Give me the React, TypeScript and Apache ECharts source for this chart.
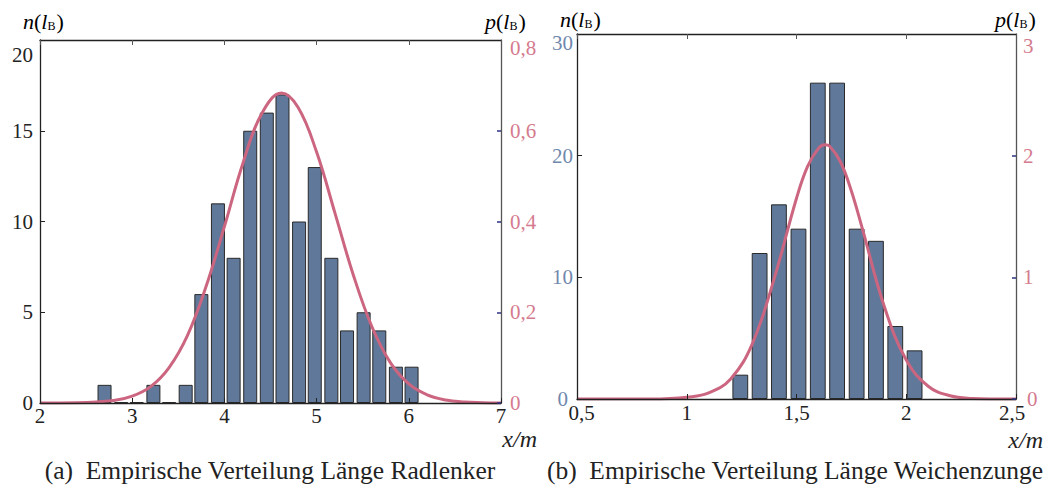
import React, { useEffect, useRef } from "react";
import * as echarts from "echarts";

const FONT = "Liberation Serif";

// ---- Left chart: Radlenker ----
const leftBinCenters = [2.70, 2.88, 3.05, 3.23, 3.40, 3.58, 3.75, 3.93, 4.10, 4.28, 4.46, 4.63, 4.81, 4.98, 5.16, 5.33, 5.51, 5.68, 5.86, 6.03];
const leftCounts = [1, 0, 0, 1, 0, 1, 6, 11, 8, 15, 16, 17, 10, 13, 8, 4, 5, 4, 2, 2];
const leftCurveX = [2.0, 2.4, 2.8, 3.0, 3.2, 3.4, 3.6, 3.8, 4.0, 4.2, 4.4, 4.62, 4.8, 5.0, 5.2, 5.4, 5.6, 5.8, 6.0, 6.2, 6.4, 6.6, 6.8, 7.0];
const leftCurveP = [0, 0.0005, 0.0054, 0.015, 0.036, 0.078, 0.149, 0.256, 0.389, 0.528, 0.636, 0.683, 0.651, 0.553, 0.418, 0.281, 0.168, 0.089, 0.042, 0.018, 0.0067, 0.0022, 0.0007, 0];
const leftCountMax = 20;
const leftDensityMax = 0.8;

// ---- Right chart: Weichenzunge ----
const rightBinCenters = [1.244, 1.332, 1.420, 1.509, 1.597, 1.685, 1.774, 1.862, 1.950, 2.038];
const rightCounts = [2, 12, 16, 14, 26, 26, 14, 13, 6, 4];
const rightCurveX = [0.5, 0.8, 0.9, 1.0, 1.1, 1.2, 1.3, 1.4, 1.5, 1.55, 1.6, 1.63, 1.65, 1.7, 1.75, 1.8, 1.9, 2.0, 2.1, 2.2, 2.3, 2.4, 2.5];
const rightCurveP = [0, 0.0004, 0.003, 0.014, 0.05, 0.165, 0.46, 1.0, 1.65, 1.91, 2.06, 2.09, 2.08, 1.95, 1.71, 1.4, 0.76, 0.32, 0.105, 0.027, 0.005, 0.0007, 0];
const rightCountMax = 30;
const rightDensityMax = 3;

const captionLeft = "(a)  Empirische Verteilung Länge Radlenker";
const captionRight = "(b)  Empirische Verteilung Länge Weichenzunge";

const BAR = "#60789a";
const BAR_BORDER = "#2a2a2a";
const CURVE = "#cc6680";
const PINK = "#d57b8f";
const BLUEGRAY = "#7088ad";
const NAVY = "#2c3280";
const DARK = "#222222";

const comma = (v: number) => String(v).replace(".", ",");

function tok(color: string, padding: number[]) {
  return { color, fontSize: 21, lineHeight: 14, fontFamily: FONT, padding };
}

function xAxes(grid: number, min: number, max: number, interval: number, margin: number, minPadL: number, maxPadR: number) {
  return [
    {
      gridIndex: grid,
      type: "value",
      min,
      max,
      interval,
      position: "bottom",
      z: 5,
      splitLine: { show: false },
      axisLine: { show: true, onZero: false, lineStyle: { color: DARK, width: 1.3 } },
      axisTick: { show: true, inside: true, length: 5, lineStyle: { color: DARK } },
      axisLabel: {
        color: DARK,
        fontSize: 21,
        lineHeight: 14,
        fontFamily: FONT,
        margin,
        showMinLabel: true,
        showMaxLabel: true,
        formatter: (v: number) =>
          v === min && minPadL ? "{a|" + comma(v) + "}" : v === max && maxPadR ? "{c|" + comma(v) + "}" : comma(v),
        rich: { a: tok(DARK, [0, 0, 0, minPadL]), c: tok(DARK, [0, maxPadR, 0, 0]) },
      },
    },
    {
      gridIndex: grid,
      type: "value",
      min,
      max,
      interval,
      position: "top",
      z: 5,
      splitLine: { show: false },
      axisLine: { show: true, onZero: false, lineStyle: { color: DARK, width: 1.3 } },
      axisTick: { show: true, inside: true, length: 5, lineStyle: { color: "#555" } },
      axisLabel: { show: false },
    },
  ];
}

function yAxis(grid: number, max: number, interval: number, side: "left" | "right", color: string, margin: number, zeroPad: number) {
  return {
    gridIndex: grid,
    type: "value",
    min: 0,
    max,
    interval,
    position: side,
    z: 5,
    splitLine: { show: false },
    axisLine: { show: true, onZero: false, lineStyle: { color: side === "left" ? DARK : "#555", width: 1.3 } },
    axisTick: {
      show: true,
      inside: true,
      length: side === "left" ? 5 : 4,
      lineStyle: side === "left" ? { color: DARK } : { color: NAVY, width: 1.5 },
    },
    axisLabel: {
      color,
      fontSize: 21,
      lineHeight: 14,
      fontFamily: FONT,
      margin,
      showMaxLabel: false,
      formatter: (v: number) => (v === 0 && zeroPad ? "{z|0}" : comma(v)),
      rich: { z: tok(color, side === "left" ? [0, zeroPad, 0, 0] : [0, 0, 0, zeroPad]) },
    },
  };
}

// top tick labels sit a little below their ticks in the reference
function topLabel(x: number, y: number, value: number, color: string, align: string) {
  return {
    type: "text",
    x,
    y,
    style: {
      text: comma(value),
      font: "21px " + FONT,
      lineHeight: 16,
      fill: color,
      align,
      verticalAlign: "middle",
    },
  };
}

function axisTitle(x: number, y: number, letter: string, color: string) {
  return {
    type: "text",
    x,
    y,
    style: {
      text: "{i|" + letter + "}{n|(}{i|l}{s|B}{n|)}",
      align: "left",
      verticalAlign: "middle",
      rich: {
        i: { fontFamily: FONT, fontSize: 22, fontStyle: "italic", color, lineHeight: 24, verticalAlign: "bottom" },
        n: { fontFamily: FONT, fontSize: 22, color, lineHeight: 24, verticalAlign: "bottom" },
        s: { fontFamily: FONT, fontSize: 12, color, lineHeight: 11, verticalAlign: "bottom", padding: [0, 1, 0, 0] },
      },
    },
  };
}

function xm(x: number, y: number) {
  return {
    type: "text",
    x,
    y,
    style: {
      text: "x/m",
      font: "italic 24px " + FONT,
      lineHeight: 18,
      fill: DARK,
      align: "right",
      verticalAlign: "middle",
    },
  };
}

function caption(x: number, y: number, text: string) {
  return {
    type: "text",
    x,
    y,
    style: {
      text,
      font: "25.5px " + FONT,
      fill: DARK,
      align: "center",
      verticalAlign: "middle",
    },
  };
}

export default function App() {
  const ref = useRef<HTMLDivElement>(null);
  useEffect(() => {
    document.body.style.margin = "0";
    const chart = echarts.init(ref.current as HTMLDivElement, null, { renderer: "svg", width: 1050, height: 491 });
    const option = {
      animation: false,
      backgroundColor: "#ffffff",
      grid: [
        { left: 40, top: 40, width: 461, height: 363 },
        { left: 577, top: 34, width: 439, height: 365 },
      ],
      xAxis: [...xAxes(0, 2, 7, 1, 6, 0, 0), ...xAxes(1, 0.5, 2.5, 0.5, 7, 9, 8)],
      yAxis: [
        yAxis(0, leftCountMax, 5, "left", DARK, 7, 0),
        yAxis(0, leftDensityMax, 0.2, "right", PINK, 9, 0),
        yAxis(1, rightCountMax, 10, "left", BLUEGRAY, 4, 5),
        yAxis(1, rightDensityMax, 1, "right", PINK, 7, 4),
      ],
      series: [
        {
          type: "bar",
          xAxisIndex: 0,
          yAxisIndex: 0,
          barWidth: 14,
          barMinHeight: 1,
          data: leftBinCenters.map((x, i) => [x, leftCounts[i]]),
          itemStyle: { color: BAR, borderColor: BAR_BORDER, borderWidth: 1 },
          z: 2,
        },
        {
          type: "line",
          xAxisIndex: 0,
          yAxisIndex: 1,
          smooth: 0.4,
          symbol: "none",
          data: leftCurveX.map((x, i) => [x, leftCurveP[i]]),
          lineStyle: { color: CURVE, width: 3 },
          z: 3,
        },
        {
          type: "bar",
          xAxisIndex: 2,
          yAxisIndex: 2,
          barWidth: 15.8,
          data: rightBinCenters.map((x, i) => [x, rightCounts[i]]),
          itemStyle: { color: BAR, borderColor: BAR_BORDER, borderWidth: 1 },
          z: 2,
        },
        {
          type: "line",
          xAxisIndex: 2,
          yAxisIndex: 3,
          smooth: 0.4,
          symbol: "none",
          data: rightCurveX.map((x, i) => [x, rightCurveP[i]]),
          lineStyle: { color: CURVE, width: 3 },
          z: 3,
        },
      ],
      graphic: [
        topLabel(33, 55, leftCountMax, DARK, "right"),
        topLabel(510, 48, leftDensityMax, PINK, "left"),
        topLabel(573, 43, rightCountMax, BLUEGRAY, "right"),
        topLabel(1023, 46, rightDensityMax, PINK, "left"),
        axisTitle(23, 20, "n", BLUEGRAY),
        axisTitle(485, 20, "p", PINK),
        axisTitle(560, 18, "n", BLUEGRAY),
        axisTitle(995, 18, "p", PINK),
        xm(537, 439),
        xm(1043, 440),
        caption(270, 470, captionLeft),
        caption(795, 470, captionRight),
      ],
    };
    chart.setOption(option as any);
    return () => chart.dispose();
  }, []);
  return <div ref={ref} style={{ width: 1050, height: 491, background: "#fff" }} />;
}
